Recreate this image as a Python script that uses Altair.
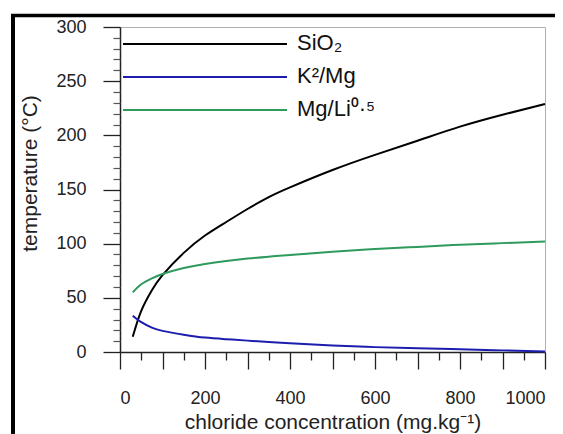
import altair as alt
import pandas as pd

# ---- data ----
chloride = [30, 50, 75, 100, 150, 200, 250, 300, 350, 400, 500, 600, 700, 800, 900, 1000]
sio2 = [14, 38, 57, 71, 91.5, 107.5, 120, 132, 143, 152, 168, 182, 195, 208, 219, 229]
k2mg = [33.5, 27.5, 22.5, 19.5, 16, 13.3, 11.8, 10.5, 9.2, 8, 6, 4.5, 3.5, 2.5, 1.5, 0.5]
mgli = [55, 62.5, 68, 72, 77.5, 81.3, 84, 86.2, 88, 89.5, 92.5, 95, 97, 99, 100.5, 102]

series_names = ["SiO2", "K2/Mg", "Mg/Li0.5"]
series_labels = ["SiO\u2082", "K\u00b2/Mg", "Mg/Li\u2070\u00b7\u2075"]
series_colors = ["#000000", "#1c1cae", "#2e9a5c"]

x_major = list(range(0, 1001, 100))
x_minor = list(range(50, 1000, 100))
y_major = list(range(0, 301, 50))
y_minor = [v for v in range(0, 301, 10) if v % 50 != 0]

rows = []
for name, vals in zip(series_names, [sio2, k2mg, mgli]):
    for xv, tv in zip(chloride, vals):
        rows.append({"x": xv, "T": tv, "series": name})
df = pd.DataFrame(rows)

FONT = "Liberation Sans"
TXT = "#222222"
xscale = alt.Scale(domain=[0, 1000], nice=False, zero=False)
yscale = alt.Scale(domain=[0, 300], nice=False)
cscale = alt.Scale(domain=series_names, range=series_colors)

lines = alt.Chart(df).mark_line(strokeWidth=2, interpolate="natural").encode(
    x=alt.X("x:Q", scale=xscale, axis=alt.Axis(
        orient="bottom", values=x_major, tickSize=17, tickWidth=1.3,
        tickColor=TXT, domainColor=TXT, domainWidth=1.5, format="d",
        labelExpr="datum.value % 200 === 0 ? datum.label : ''",
        labelFontSize=18, labelColor=TXT, labelPadding=20, labelFont=FONT,
        grid=False, title="chloride concentration (mg.kg\u207b\u00b9)",
        titleFontSize=21, titleFont=FONT, titleFontWeight="normal",
        titleColor=TXT, titlePadding=4)),
    y=alt.Y("T:Q", scale=yscale, axis=alt.Axis(
        orient="left", values=y_major, tickSize=17, tickWidth=1.3,
        tickColor=TXT, domainColor=TXT, domainWidth=1.5,
        labelFontSize=18, labelColor=TXT, labelPadding=17, labelFont=FONT,
        grid=False, title="temperature (\u00b0C)", titleFontSize=21,
        titleFont=FONT, titleFontWeight="normal", titleColor=TXT,
        titleX=-90, titleY=146, titleAlign="center", titleBaseline="middle",
        titleAngle=270)),
    color=alt.Color("series:N", scale=cscale, legend=None),
    detail="series:N",
)

minor = alt.Chart(df).mark_point(opacity=0).encode(
    x=alt.X("x:Q", scale=xscale, title=None, axis=alt.Axis(
        orient="bottom", values=x_minor, tickSize=8, tickWidth=1.3,
        tickColor=TXT, labels=False, domain=False, grid=False)),
    y=alt.Y("T:Q", scale=yscale, title=None, axis=alt.Axis(
        orient="left", values=y_minor, tickSize=7, tickWidth=1.2,
        tickColor="#555555", labels=False, domain=False, grid=False)),
)

one = alt.Data(values=[{}])
layers = [lines, minor]

# legend drawn inside the plot
for i, (lab, col) in enumerate(zip(series_labels, series_colors)):
    yy = 17 + 33 * i
    layers.append(alt.Chart(one).mark_rule(color=col, strokeWidth=2).encode(
        x=alt.value(3), x2=alt.value(167), y=alt.value(yy)))
    layers.append(alt.Chart(one).mark_text(
        align="left", baseline="middle", fontSize=22, font=FONT, color="#111111"
    ).encode(x=alt.value(177), y=alt.value(yy - 1), text=alt.value(lab)))

# outer black frame of the figure
layers.append(alt.Chart(one).mark_rule(color="#000000", strokeWidth=4).encode(
    x=alt.value(-107), y=alt.value(-13), y2=alt.value(430)))
layers.append(alt.Chart(one).mark_rule(color="#000000", strokeWidth=3.5).encode(
    x=alt.value(-109), x2=alt.value(450), y=alt.value(-11.5)))

chart = alt.layer(*layers).resolve_axis(x="independent", y="independent").properties(
    width=425, height=325,
    autosize=alt.AutoSizeParams(type="none"),
    padding={"left": 112, "top": 19, "right": 10, "bottom": 82},
).configure_view(stroke="#b0b0b0", strokeWidth=1)

chart.save("out.html", embed_options={"renderer": "svg", "actions": False})
